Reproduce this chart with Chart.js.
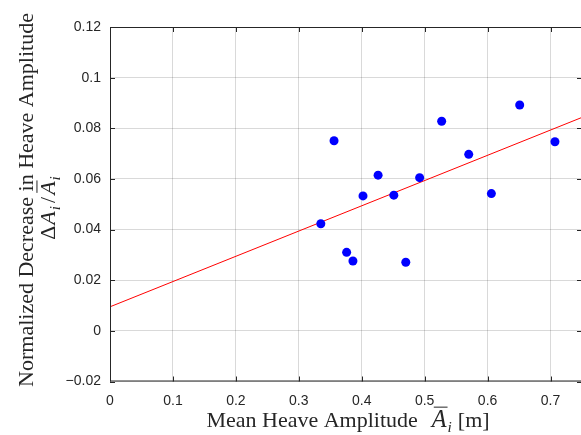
<!DOCTYPE html>
<html lang="en">
<head>
    <meta charset="UTF-8">
    <title>Heave Amplitude Decrease</title>
    <style>
        html, body { margin: 0; padding: 0; background: #fff; overflow: hidden; }
    </style>
    <script src="https://cdn.jsdelivr.net/npm/chart.js"></script>
</head>
<body>
    <!-- a bit wider than the window: right edge of the axes box falls off-canvas like the original -->
    <canvas id="grafico" width="583" height="435"></canvas>

    <script>
        // measured points (mean heave amplitude [m] vs normalized decrease)
        const meanAmp      = [0.335, 0.356, 0.376, 0.386, 0.402, 0.426, 0.451, 0.470, 0.492, 0.527, 0.570, 0.606, 0.651, 0.707];
        const normDecrease = [0.0423, 0.0751, 0.0310, 0.0276, 0.0533, 0.0615, 0.0536, 0.0271, 0.0605, 0.0828, 0.0697, 0.0542, 0.0892, 0.0747];

        // linear fit, end points
        const fitX = [0, 0.75];
        const fitY = [0.0095, 0.0843];

        const xTicks = [0, 0.1, 0.2, 0.3, 0.4, 0.5, 0.6, 0.7];
        const xTickLabels = ['0', '0.1', '0.2', '0.3', '0.4', '0.5', '0.6', '0.7'];
        const yTicks = [-0.02, 0, 0.02, 0.04, 0.06, 0.08, 0.1, 0.12];
        const yTickLabels = ['\u22120.02', '0', '0.02', '0.04', '0.06', '0.08', '0.1', '0.12'];

        const AXIS = '#262626';
        const SERIF = '"Liberation Serif", "Times New Roman", serif';

        // pieces of a label: it = italic, sub = subscript, over = overline, dx = extra space before
        function partFont(p, size) {
            const fs = p.sub ? size * 0.7 : (p.big ? size * 1.1 : size);
            return { fs: fs, font: (p.it ? 'italic ' : '') + fs + 'px ' + SERIF };
        }
        function richWidth(ctx, parts, size) {
            let w = 0;
            parts.forEach(p => {
                ctx.font = partFont(p, size).font;
                w += (p.dx || 0) + ctx.measureText(p.t).width;
            });
            return w;
        }
        function drawRich(ctx, parts, x, y, size) {
            parts.forEach(p => {
                x += p.dx || 0;
                const f = partFont(p, size);
                ctx.font = f.font;
                const yy = p.sub ? y + size * 0.22 : y;
                ctx.fillText(p.t, x, yy);
                const w = ctx.measureText(p.t).width;
                if (p.over) {
                    ctx.save();
                    ctx.lineWidth = 1;
                    ctx.beginPath();
                    ctx.moveTo(x + 2, y - f.fs * 0.82);
                    ctx.lineTo(x + w + 1, y - f.fs * 0.82);
                    ctx.stroke();
                    ctx.restore();
                }
                x += w;
            });
        }

        const xTitle = [
            { t: 'Mean Heave Amplitude' },
            { t: 'A', it: true, over: true, big: true, dx: 14 },
            { t: 'i', it: true, sub: true, dx: 1 },
            { t: '[m]', dx: 6 }
        ];
        const yTitle1 = [{ t: 'Normalized Decrease in Heave Amplitude' }];
        const yTitle2 = [
            { t: '\u0394' },
            { t: 'A', it: true, dx: 1 },
            { t: 'i', it: true, sub: true, dx: 1 },
            { t: '/', dx: 3 },
            { t: 'A', it: true, over: true, dx: 2 },
            { t: 'i', it: true, sub: true, dx: 1 }
        ];

        // box, inward ticks and the axis titles
        const axesPlugin = {
            id: 'matlabAxes',
            afterDraw(chart) {
                const ctx = chart.ctx;
                const a = chart.chartArea;
                const xs = chart.scales.x, ys = chart.scales.y;
                ctx.save();
                ctx.strokeStyle = AXIS;
                ctx.lineWidth = 1;
                ctx.strokeRect(a.left + 0.5, a.top + 0.5, a.right - a.left - 1, a.bottom - a.top - 1);
                ctx.beginPath();
                xTicks.forEach(v => {
                    const px = Math.round(xs.getPixelForValue(v)) + 0.5;
                    ctx.moveTo(px, a.bottom); ctx.lineTo(px, a.bottom - 5);
                    ctx.moveTo(px, a.top); ctx.lineTo(px, a.top + 5);
                });
                yTicks.forEach(v => {
                    const py = Math.round(ys.getPixelForValue(v)) + 0.5;
                    ctx.moveTo(a.left, py); ctx.lineTo(a.left + 5, py);
                    ctx.moveTo(a.right, py); ctx.lineTo(a.right - 5, py);
                });
                ctx.stroke();

                ctx.fillStyle = AXIS;
                ctx.strokeStyle = AXIS;
                ctx.textBaseline = 'alphabetic';
                ctx.textAlign = 'left';
                const size = 22;

                // x title, centred under the visible part of the axes
                const wx = richWidth(ctx, xTitle, size);
                drawRich(ctx, xTitle, 348 - wx / 2, 427, size);

                // y title, two lines rotated
                const w1 = richWidth(ctx, yTitle1, size);
                ctx.save();
                ctx.translate(33, 200);
                ctx.rotate(-Math.PI / 2);
                drawRich(ctx, yTitle1, -w1 / 2, 0, size);
                ctx.restore();

                const w2 = richWidth(ctx, yTitle2, size);
                ctx.save();
                ctx.translate(55, 208);
                ctx.rotate(-Math.PI / 2);
                drawRich(ctx, yTitle2, -w2 / 2, 0, size);
                ctx.restore();

                ctx.restore();
            }
        };

        const ctx = document.getElementById('grafico').getContext('2d');
        const grafico = new Chart(ctx, {
            type: 'scatter',
            data: {
                datasets: [
                    {
                        label: 'dados',
                        data: meanAmp.map((x, i) => ({ x: x, y: normDecrease[i] })),
                        backgroundColor: '#0000ff',
                        borderColor: '#0000ff',
                        pointRadius: 4.5,
                        pointHoverRadius: 4.5,
                        borderWidth: 0,
                        order: 0
                    },
                    {
                        label: 'ajuste',
                        data: fitX.map((x, i) => ({ x: x, y: fitY[i] })),
                        showLine: true,
                        borderColor: '#ff0000',
                        borderWidth: 1,
                        pointRadius: 0,
                        fill: false,
                        order: 1
                    }
                ]
            },
            options: {
                responsive: false,
                animation: false,
                devicePixelRatio: 1,
                layout: { autoPadding: false, padding: { top: 27, right: 1, left: 0, bottom: 0 } },
                plugins: { legend: { display: false }, tooltip: { enabled: false } },
                scales: {
                    x: {
                        type: 'linear',
                        min: 0,
                        max: 0.75,
                        afterFit: s => { s.height = 53.5; s.paddingLeft = 0; s.paddingRight = 0; },
                        afterBuildTicks: s => { s.ticks = xTicks.map(v => ({ value: v })); },
                        grid: { color: 'rgba(0,0,0,0.15)', lineWidth: 1, drawTicks: false },
                        border: { display: false },
                        ticks: {
                            padding: 11,
                            color: AXIS,
                            maxRotation: 0,
                            font: { family: '"Liberation Sans", Arial, sans-serif', size: 14 },
                            callback: v => xTickLabels[xTicks.findIndex(t => Math.abs(t - v) < 1e-9)]
                        }
                    },
                    y: {
                        type: 'linear',
                        min: -0.02,
                        max: 0.12,
                        afterFit: s => { s.width = 110; s.paddingTop = 0; s.paddingBottom = 0; },
                        afterBuildTicks: s => { s.ticks = yTicks.map(v => ({ value: v })); },
                        grid: { color: 'rgba(0,0,0,0.15)', lineWidth: 1, drawTicks: false },
                        border: { display: false },
                        ticks: {
                            padding: 9,
                            color: AXIS,
                            font: { family: '"Liberation Sans", Arial, sans-serif', size: 14 },
                            callback: v => yTickLabels[yTicks.findIndex(t => Math.abs(t - v) < 1e-9)]
                        }
                    }
                }
            },
            plugins: [axesPlugin]
        });
    </script>
</body>
</html>
